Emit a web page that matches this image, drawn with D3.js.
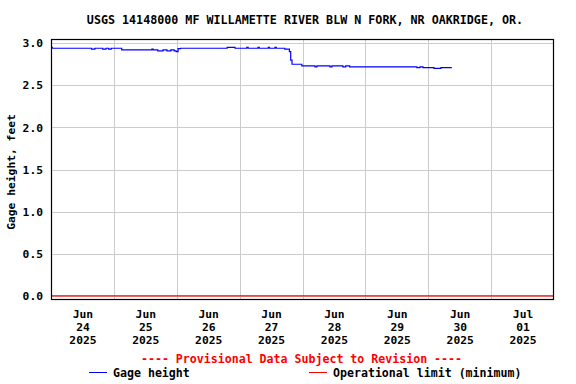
<!DOCTYPE html>
<html><head><meta charset="utf-8">
<script src="https://cdn.jsdelivr.net/npm/d3@7"></script>
<style>
body{margin:0;background:#fff;}
text{font-family:"DejaVu Sans Mono",monospace;font-weight:bold;}
</style></head>
<body><svg id="chart" width="576" height="384"></svg>
<script>
const title = "USGS 14148000 MF WILLAMETTE RIVER BLW N FORK, NR OAKRIDGE, OR.";
const yLabel = "Gage height, feet";
const provisional = "---- Provisional Data Subject to Revision ----";
const seriesNames = ["Gage height", "Operational limit (minimum)"];
const yTicks = [0.0, 0.5, 1.0, 1.5, 2.0, 2.5, 3.0];
const xDomain = ["2025-06-24T00:00", "2025-07-02T00:00"];
const dayLabels = ["2025-06-24","2025-06-25","2025-06-26","2025-06-27","2025-06-28","2025-06-29","2025-06-30","2025-07-01"];
// Gage height step breakpoints (time, feet)
const gageTimes = [
 "2025-06-24T00:00","2025-06-24T00:30","2025-06-24T15:30","2025-06-24T16:45","2025-06-24T19:45","2025-06-24T21:00",
 "2025-06-24T22:00","2025-06-24T23:00","2025-06-25T03:00","2025-06-25T14:30","2025-06-25T15:00","2025-06-25T16:45",
 "2025-06-25T18:45","2025-06-25T20:15","2025-06-25T21:45","2025-06-25T23:00","2025-06-25T23:45","2025-06-26T00:30",
 "2025-06-26T01:30","2025-06-26T19:15","2025-06-26T22:15","2025-06-27T02:45","2025-06-27T03:15","2025-06-27T07:00",
 "2025-06-27T07:30","2025-06-27T10:55","2025-06-27T11:25","2025-06-27T13:30","2025-06-27T14:00","2025-06-27T17:15",
 "2025-06-27T19:00","2025-06-27T19:30","2025-06-27T20:00","2025-06-27T23:45","2025-06-28T04:45","2025-06-28T05:30",
 "2025-06-28T10:30","2025-06-28T11:15","2025-06-28T15:25","2025-06-28T16:30","2025-06-28T18:00","2025-06-29T19:40",
 "2025-06-29T20:50","2025-06-29T22:00","2025-06-30T02:10","2025-06-30T04:50","2025-06-30T09:00"
];
const gageValues = [
 2.95,2.94,2.93,2.94,2.93,2.94,
 2.93,2.94,2.92,2.93,2.92,2.91,
 2.92,2.91,2.92,2.91,2.90,2.935,
 2.94,2.95,2.94,2.95,2.94,2.95,
 2.94,2.95,2.94,2.95,2.94,2.93,
 2.90,2.80,2.75,2.73,2.72,2.73,
 2.72,2.73,2.72,2.73,2.72,2.71,
 2.72,2.71,2.70,2.71,2.71
];
const limitValue = 0.0;

const parse = d3.utcParse("%Y-%m-%dT%H:%M");
const parseDay = d3.utcParse("%Y-%m-%d");
const svg = d3.select("#chart");
const L = 51, R = 554, T = 39, B = 300;
const x = d3.scaleUtc().domain(xDomain.map(parse)).range([L, R]);
const y = d3.scaleLinear().domain([-0.05, 3.05]).range([B, T]);

// gridlines
const midnights = dayLabels.slice(1).map(parseDay);
svg.append("g").attr("transform", `translate(0,${B})`)
  .call(d3.axisBottom(x).tickValues(midnights).tickSize(-(B - T)).tickFormat(""))
  .call(g => g.select(".domain").remove())
  .call(g => g.selectAll("line").attr("stroke", "#cccccc").attr("shape-rendering", "crispEdges"));
svg.append("g").attr("transform", `translate(${L},0)`)
  .call(d3.axisLeft(y).tickValues(yTicks).tickSize(-(R - L)).tickFormat(""))
  .call(g => g.select(".domain").remove())
  .call(g => g.selectAll("line").attr("stroke", "#cccccc").attr("shape-rendering", "crispEdges"));

// y tick labels
svg.append("g").attr("transform", `translate(${L},0)`)
  .call(d3.axisLeft(y).tickValues(yTicks).tickSize(0).tickPadding(8).tickFormat(d3.format(".1f")))
  .call(g => g.select(".domain").remove())
  .call(g => g.selectAll("text").attr("font-size", "11.3px").attr("fill", "#000")
      .attr("font-family", "DejaVu Sans Mono").attr("font-weight", "bold"));

// x tick labels at noon
const noons = dayLabels.map(d => d3.utcHour.offset(parseDay(d), 12));
const fm = d3.utcFormat("%b"), fd = d3.utcFormat("%d"), fy = d3.utcFormat("%Y");
const xa = svg.append("g").attr("transform", `translate(0,${B})`)
  .call(d3.axisBottom(x).tickValues(noons).tickSize(0).tickFormat(""))
  .call(g => g.select(".domain").remove());
xa.selectAll(".tick text").each(function(d) {
  const t = d3.select(this).attr("y", 0).attr("dy", null)
    .attr("font-size", "11.3px").attr("fill", "#000")
    .attr("font-family", "DejaVu Sans Mono").attr("font-weight", "bold");
  [fm(d), fd(d), fy(d)].forEach((s, i) => {
    t.append("tspan").attr("x", 0).attr("y", 18 + i * 13).text(s);
  });
});

// operational limit
svg.append("line").attr("x1", L).attr("x2", R)
  .attr("y1", y(limitValue)).attr("y2", y(limitValue))
  .attr("stroke", "#ff0000").attr("stroke-width", 1.3);

// gage line
const data = gageTimes.map((t, i) => ({t: parse(t), v: gageValues[i]}));
svg.append("path").datum(data)
  .attr("d", d3.line().x(d => x(d.t)).y(d => y(d.v)).curve(d3.curveStepAfter))
  .attr("fill", "none").attr("stroke", "#0000ff").attr("stroke-width", 1.2);

// border
svg.append("rect").attr("x", L + 0.5).attr("y", T + 0.5).attr("width", R - L - 1).attr("height", B - T - 1)
  .attr("fill", "none").attr("stroke", "#000").attr("stroke-width", 1.2);

// title
svg.append("text").attr("x", 305).attr("y", 24).attr("text-anchor", "middle")
  .attr("font-size", "11.7px").text(title);

// y label
svg.append("text").attr("transform", "translate(15,172) rotate(-90)")
  .attr("text-anchor", "middle").attr("font-size", "11.3px").text(yLabel);

// provisional
svg.append("text").attr("x", 301.5).attr("y", 363).attr("text-anchor", "middle")
  .attr("font-size", "11.6px").attr("fill", "#ff0000").text(provisional);

// legend
const legend = [
  {name: seriesNames[0], color: "#0000ff", x1: 89, x2: 107, tx: 113},
  {name: seriesNames[1], color: "#ff0000", x1: 309, x2: 327, tx: 333}
];
legend.forEach(l => {
  svg.append("line").attr("x1", l.x1).attr("x2", l.x2).attr("y1", 372.5).attr("y2", 372.5)
    .attr("stroke", l.color).attr("stroke-width", 1);
  svg.append("text").attr("x", l.tx).attr("y", 377).attr("font-size", "11.6px").text(l.name);
});
</script></body></html>
